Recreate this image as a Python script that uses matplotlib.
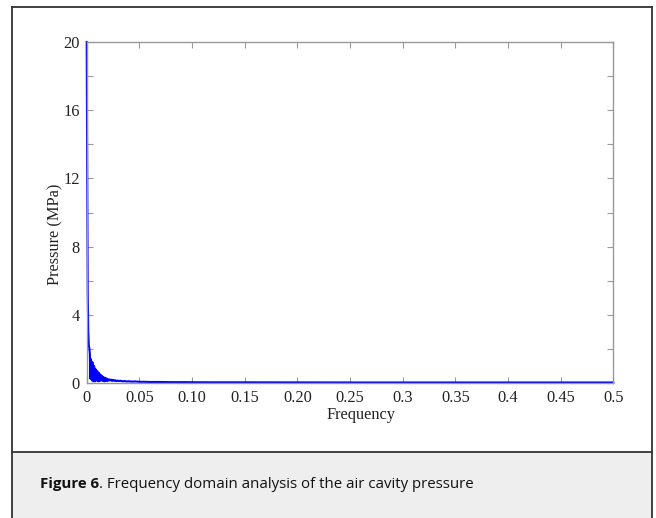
import matplotlib
matplotlib.use("Agg")
import matplotlib.pyplot as plt
from matplotlib.patches import Rectangle

# ---- data ----
freq = [0.0, 0.0005, 0.001, 0.0015, 0.002, 0.0025, 0.003, 0.0035, 0.004, 0.0045,
        0.005, 0.0055, 0.006, 0.0065, 0.007, 0.0075, 0.008, 0.0085, 0.009, 0.0095,
        0.010, 0.0105, 0.011, 0.0115, 0.012, 0.0125, 0.013, 0.0135, 0.014, 0.0145,
        0.015, 0.0155, 0.016, 0.0165, 0.017, 0.0175, 0.018, 0.0185, 0.019, 0.0195,
        0.020, 0.021, 0.022, 0.023, 0.024, 0.025, 0.026, 0.027, 0.028, 0.029,
        0.030, 0.032, 0.034, 0.036, 0.038, 0.040, 0.043, 0.046, 0.050, 0.055,
        0.060, 0.070, 0.080, 0.090, 0.100, 0.120, 0.150, 0.200, 0.250, 0.300,
        0.350, 0.400, 0.450, 0.500]
pressure = [20.0, 12.0, 5.2, 3.0, 2.2, 2.05, 1.7, 0.25, 1.4, 1.25,
            0.15, 1.2, 0.95, 0.1, 1.0, 0.75, 0.1, 0.8, 0.6, 0.15,
            0.7, 0.55, 0.1, 0.6, 0.45, 0.12, 0.5, 0.4, 0.15, 0.42,
            0.35, 0.12, 0.35, 0.28, 0.1, 0.3, 0.25, 0.12, 0.26, 0.2,
            0.12, 0.22, 0.15, 0.2, 0.12, 0.18, 0.13, 0.16, 0.11, 0.14,
            0.12, 0.13, 0.1, 0.11, 0.09, 0.1, 0.08, 0.09, 0.07, 0.07,
            0.06, 0.06, 0.05, 0.05, 0.045, 0.04, 0.04, 0.035, 0.03, 0.03,
            0.03, 0.03, 0.03, 0.03]

xticks = [0, 0.05, 0.10, 0.15, 0.20, 0.25, 0.3, 0.35, 0.4, 0.45, 0.5]
xticklabels = ["0", "0.05", "0.10", "0.15", "0.20", "0.25", "0.3", "0.35", "0.4", "0.45", "0.5"]
yticks = [0, 2, 4, 6, 8, 10, 12, 14, 16, 18, 20]
yticklabels = ["0", "", "4", "", "8", "", "12", "", "16", "", "20"]
xlabel = "Frequency"
ylabel = "Pressure (MPa)"
caption_bold = "Figure 6"
caption_rest = ". Frequency domain analysis of the air cavity pressure"

W, H = 656, 518
fig = plt.figure(figsize=(W / 100, H / 100), dpi=100)

# caption background and outer frame
fig.patches.append(Rectangle((12 / W, 0), (652 - 12) / W, (518 - 452) / H,
                             transform=fig.transFigure, facecolor="#eeeeee",
                             edgecolor="none", zorder=0))
fig.lines.append(plt.Line2D([12 / W, 652 / W], [1 - 452 / H, 1 - 452 / H],
                            transform=fig.transFigure, color="#333333", lw=1.3))
fig.lines.append(plt.Line2D([12 / W, 652 / W], [1 - 7 / H, 1 - 7 / H],
                            transform=fig.transFigure, color="#333333", lw=1.3))
fig.lines.append(plt.Line2D([12 / W, 12 / W], [0, 1 - 7 / H],
                            transform=fig.transFigure, color="#333333", lw=1.3))
fig.lines.append(plt.Line2D([652 / W, 652 / W], [0, 1 - 7 / H],
                            transform=fig.transFigure, color="#333333", lw=1.3))

ax = fig.add_axes([86.7 / W, 1 - 383 / H, (613.3 - 86.7) / W, (383 - 42) / H])
ax.plot(freq, pressure, color="#0000ff", lw=1.5, clip_on=False)
ax.set_xlim(0, 0.5)
ax.set_ylim(0, 20)

serif = ["Liberation Serif", "DejaVu Serif"]
fs = 11.8
ax.set_xticks(xticks)
ax.set_xticklabels(xticklabels, family=serif, fontsize=fs)
ax.set_yticks(yticks)
ax.set_yticklabels(yticklabels, family=serif, fontsize=fs)
ax.tick_params(axis="both", direction="in", length=4, width=0.8, color="#999999",
               top=True, right=True, labelcolor="#222222")
ax.tick_params(axis="x", pad=5)
ax.tick_params(axis="y", pad=5)
for s in ax.spines.values():
    s.set_color("#999999")
    s.set_linewidth(1.0)
ax.set_xlabel(xlabel, family=serif, fontsize=fs, color="#222222")
ax.set_ylabel(ylabel, family=serif, fontsize=fs, color="#222222")
ax.xaxis.set_label_coords((361 - 86.7) / 526.6, -(407 - 383) / 341)
ax.yaxis.label.set_va("center")
ax.yaxis.set_label_coords((55 - 86.7) / 526.6, 1 - (234 - 42) / 341)

# caption
t1 = fig.text(40 / W, 1 - 484 / H, caption_bold, family="Open Sans",
              fontweight="bold", fontsize=10.8, va="center", ha="left", color="#111111")
fig.canvas.draw()
bb = t1.get_window_extent()
fig.text(bb.x1 / W, 1 - 484 / H, caption_rest, family="Open Sans",
         fontsize=10.8, va="center", ha="left", color="#111111")

fig.savefig("out.png", dpi=100)
